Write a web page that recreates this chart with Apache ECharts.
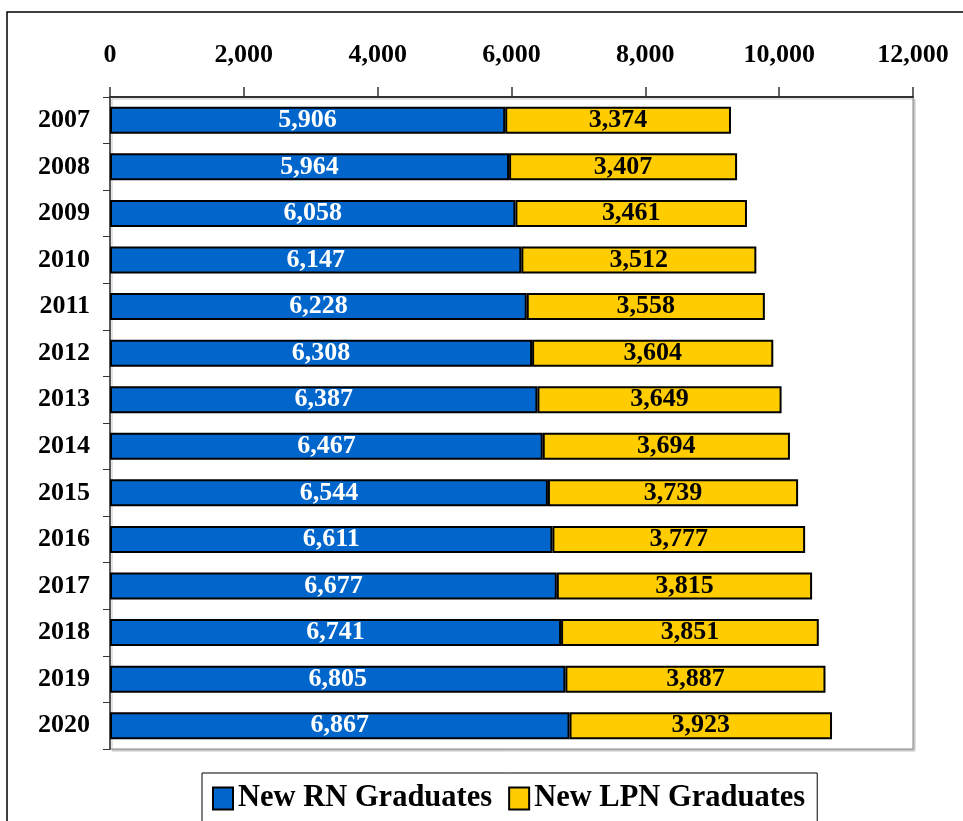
<!DOCTYPE html>
<html>
<head>
    <meta charset="utf-8">
    <title>New RN and LPN Graduates</title>
    <script src="https://cdn.jsdelivr.net/npm/echarts@6/dist/echarts.min.js"></script>
    <style>
        html, body { margin: 0; padding: 0; background: #fff; }
        #chart1 { width: 963px; height: 821px; }
    </style>
</head>
<body>
<div id="chart1"></div>
<script type="text/javascript">
    // data
    var years = ['2007', '2008', '2009', '2010', '2011', '2012', '2013',
                 '2014', '2015', '2016', '2017', '2018', '2019', '2020'];
    var rnGraduates = [5906, 5964, 6058, 6147, 6228, 6308, 6387,
                       6467, 6544, 6611, 6677, 6741, 6805, 6867];
    var lpnGraduates = [3374, 3407, 3461, 3512, 3558, 3604, 3649,
                        3694, 3739, 3777, 3815, 3851, 3887, 3923];
    var seriesNames = ['New RN Graduates', 'New LPN Graduates'];

    var font = '"Liberation Serif", "Times New Roman", serif';
    function fmt(v) { return Number(v).toLocaleString('en-US'); }

    var myChart1 = echarts.init(document.getElementById('chart1'));
    myChart1.setOption({
        animation: false,
        textStyle: { fontFamily: font },
        graphic: [{
            type: 'rect',
            shape: { x: 7, y: 12, width: 980, height: 840 },
            style: { fill: 'none', stroke: '#000', lineWidth: 1.5 },
            z: -10
        }],
        grid: {
            left: 110, right: 50, top: 97, bottom: 72,
            show: true,
            backgroundColor: '#fff',
            borderColor: '#888',
            borderWidth: 1,
            shadowColor: '#c8c8c8',
            shadowBlur: 0,
            shadowOffsetX: 2,
            shadowOffsetY: 2
        },
        legend: {
            data: seriesNames,
            icon: 'rect',
            top: 773,
            left: 202,
            padding: [10, 12, 10, 10],
            itemWidth: 20,
            itemHeight: 22,
            itemGap: 16,
            borderColor: '#000',
            borderWidth: 1,
            backgroundColor: '#fff',
            textStyle: { fontFamily: font, fontWeight: 'bold', fontSize: 30.5, color: '#000' }
        },
        xAxis: {
            type: 'value',
            position: 'top',
            min: 0,
            max: 12000,
            interval: 2000,
            axisLine: { show: true, lineStyle: { color: '#333', width: 2 } },
            axisTick: { show: true, length: 10, lineStyle: { color: '#333', width: 1.5 } },
            axisLabel: {
                margin: 29,
                fontFamily: font, fontWeight: 'bold', fontSize: 26, color: '#000',
                formatter: fmt
            },
            splitLine: { show: false }
        },
        yAxis: {
            type: 'category',
            inverse: true,
            data: years,
            axisLine: { show: true, lineStyle: { color: '#333', width: 1.5 } },
            axisTick: { show: true, length: 7, lineStyle: { color: '#333' } },
            axisLabel: {
                margin: 20,
                fontFamily: font, fontWeight: 'bold', fontSize: 26, color: '#000'
            }
        },
        series: [
            {
                name: seriesNames[0],
                type: 'bar',
                stack: 'total',
                barWidth: 27,
                data: rnGraduates,
                itemStyle: { color: '#0066CC', borderColor: '#000', borderWidth: 2 },
                label: {
                    show: true, position: 'inside',
                    fontFamily: font, fontWeight: 'bold', fontSize: 26, color: '#fff',
                    formatter: function (p) { return fmt(p.value); }
                }
            },
            {
                name: seriesNames[1],
                type: 'bar',
                stack: 'total',
                barWidth: 27,
                data: lpnGraduates,
                itemStyle: { color: '#FFCC00', borderColor: '#000', borderWidth: 2 },
                label: {
                    show: true, position: 'inside',
                    fontFamily: font, fontWeight: 'bold', fontSize: 26, color: '#000',
                    formatter: function (p) { return fmt(p.value); }
                }
            }
        ]
    });
</script>
</body>
</html>
